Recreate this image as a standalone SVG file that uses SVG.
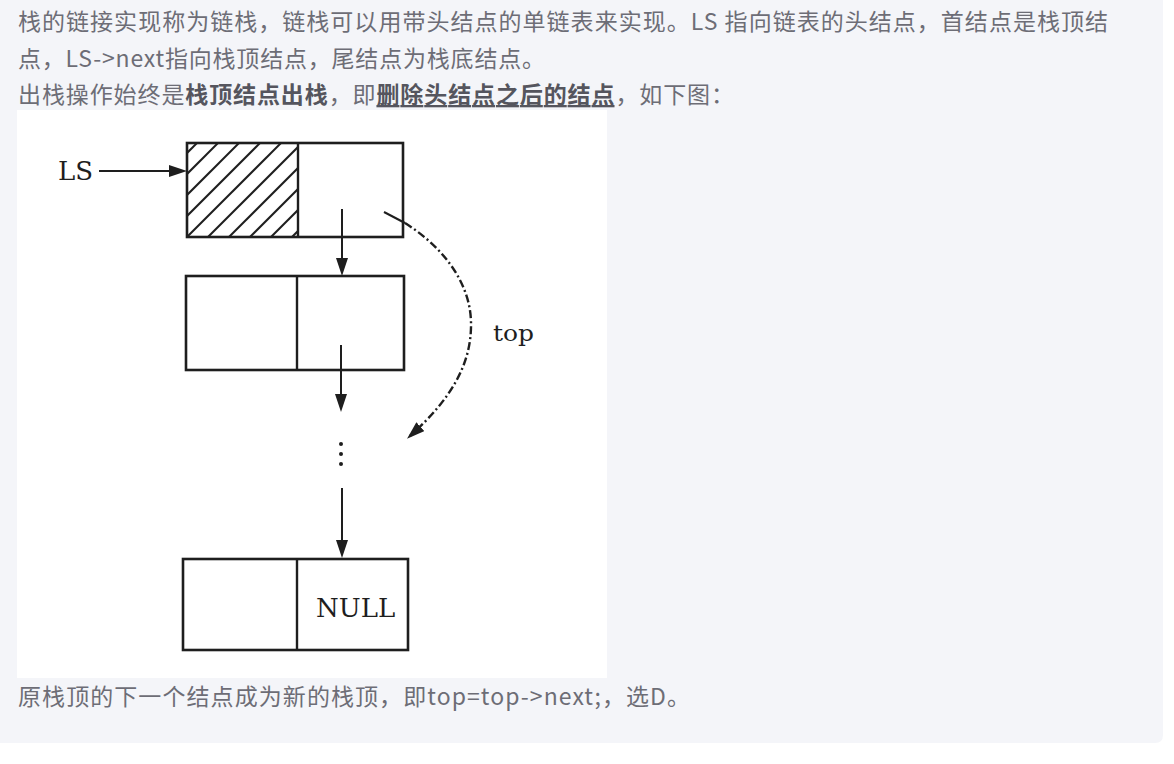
<svg xmlns="http://www.w3.org/2000/svg" width="1174" height="764" viewBox="0 0 1174 764">
  <style>
    .para { font-family: "Noto Sans CJK SC", "Noto Sans", sans-serif; font-size: 23px; fill: #6d6d76; }
    .b { font-weight: bold; fill: #55555e; }
    .u { text-decoration: underline; }
    .box { fill: none; stroke: #1e1e1e; stroke-width: 2.6; }
    .div { stroke: #1e1e1e; stroke-width: 2.4; }
    .hatch { stroke: #1e1e1e; stroke-width: 2; }
    .conn { fill: none; stroke: #1e1e1e; stroke-width: 2; }
    .dashdot { fill: none; stroke: #1e1e1e; stroke-width: 2.4; stroke-dasharray: 8 3 2 3; }
    .serif { font-family: "DejaVu Serif", "Liberation Serif", serif; fill: #1e1e1e; }
  </style>
  <defs>
    <marker id="arr" viewBox="0 0 18 12" refX="14" refY="6" markerWidth="18" markerHeight="12" markerUnits="userSpaceOnUse" orient="auto">
      <path d="M0,0 L18,6 L0,12 z" fill="#1e1e1e"/>
    </marker>
    <clipPath id="hatchClip">
      <rect x="187" y="143" width="111" height="94"/>
    </clipPath>
  </defs>

  <!-- page panel -->
  <rect x="0" y="0" width="1174" height="764" fill="#ffffff"/>
  <path d="M0,0 H1163 V735 Q1163,743 1155,743 H0 Z" fill="#f4f5f9"/>

  <!-- paragraph text -->
  <g id="text-top">
    <text class="para" x="18" y="30" textLength="1090" lengthAdjust="spacing">栈的链接实现称为链栈，链栈可以用带头结点的单链表来实现。LS 指向链表的头结点，首结点是栈顶结</text>
    <text class="para" x="18" y="67" textLength="527" lengthAdjust="spacing">点，LS-&gt;next指向栈顶结点，尾结点为栈底结点。</text>
    <text class="para" x="18" y="103" textLength="716" lengthAdjust="spacing">出栈操作始终是<tspan class="b">栈顶结点出栈</tspan>，即<tspan class="b u">删除头结点之后的结点</tspan>，如下图：</text>
  </g>

  <!-- figure background -->
  <rect x="17" y="110" width="590" height="568" fill="#ffffff"/>

  <g id="label-LS">
    <text class="serif" x="58" y="180" font-size="26">LS</text>
  </g>

  <g id="node-head">
    <g clip-path="url(#hatchClip)">
      <line class="hatch" x1="103" y1="237" x2="197" y2="143"/>
      <line class="hatch" x1="124" y1="237" x2="218" y2="143"/>
      <line class="hatch" x1="145" y1="237" x2="239" y2="143"/>
      <line class="hatch" x1="166" y1="237" x2="260" y2="143"/>
      <line class="hatch" x1="187" y1="237" x2="281" y2="143"/>
      <line class="hatch" x1="208" y1="237" x2="302" y2="143"/>
      <line class="hatch" x1="229" y1="237" x2="323" y2="143"/>
      <line class="hatch" x1="250" y1="237" x2="344" y2="143"/>
      <line class="hatch" x1="271" y1="237" x2="365" y2="143"/>
      <line class="hatch" x1="292" y1="237" x2="386" y2="143"/>
    </g>
    <rect class="box" x="187" y="143" width="216" height="94"/>
    <line class="div" x1="298" y1="143" x2="298" y2="237"/>
  </g>

  <g id="node-2">
    <rect class="box" x="186" y="276" width="218" height="94"/>
    <line class="div" x1="297" y1="276" x2="297" y2="370"/>
  </g>

  <g id="ellipsis">
    <circle cx="341" cy="444" r="2" fill="#1e1e1e"/>
    <circle cx="341" cy="454" r="2" fill="#1e1e1e"/>
    <circle cx="341" cy="464" r="2" fill="#1e1e1e"/>
  </g>

  <g id="node-tail">
    <rect class="box" x="183" y="559" width="225" height="91"/>
    <line class="div" x1="297" y1="559" x2="297" y2="650"/>
    <text class="serif" x="316" y="617" font-size="26">NULL</text>
  </g>

  <g id="label-top">
    <text class="serif" x="493" y="341" font-size="22" textLength="41" lengthAdjust="spacingAndGlyphs">top</text>
  </g>

  <g id="connectors">
    <line class="conn" x1="99" y1="171" x2="183" y2="171" marker-end="url(#arr)"/>
    <line class="conn" x1="342" y1="209" x2="342" y2="272" marker-end="url(#arr)"/>
    <line class="conn" x1="341" y1="345" x2="341" y2="408" marker-end="url(#arr)"/>
    <line class="conn" x1="342" y1="488" x2="342" y2="554" marker-end="url(#arr)"/>
    <line class="conn" x1="384" y1="212" x2="405" y2="223"/>
    <path class="dashdot" d="M405,223 C440,245 470,280 471,322 C472,365 450,400 410,436" marker-end="url(#arr)"/>
  </g>

  <g id="text-bottom">
    <text class="para" x="18" y="705" textLength="672" lengthAdjust="spacing">原栈顶的下一个结点成为新的栈顶，即top=top-&gt;next;，选D。</text>
  </g>
</svg>
